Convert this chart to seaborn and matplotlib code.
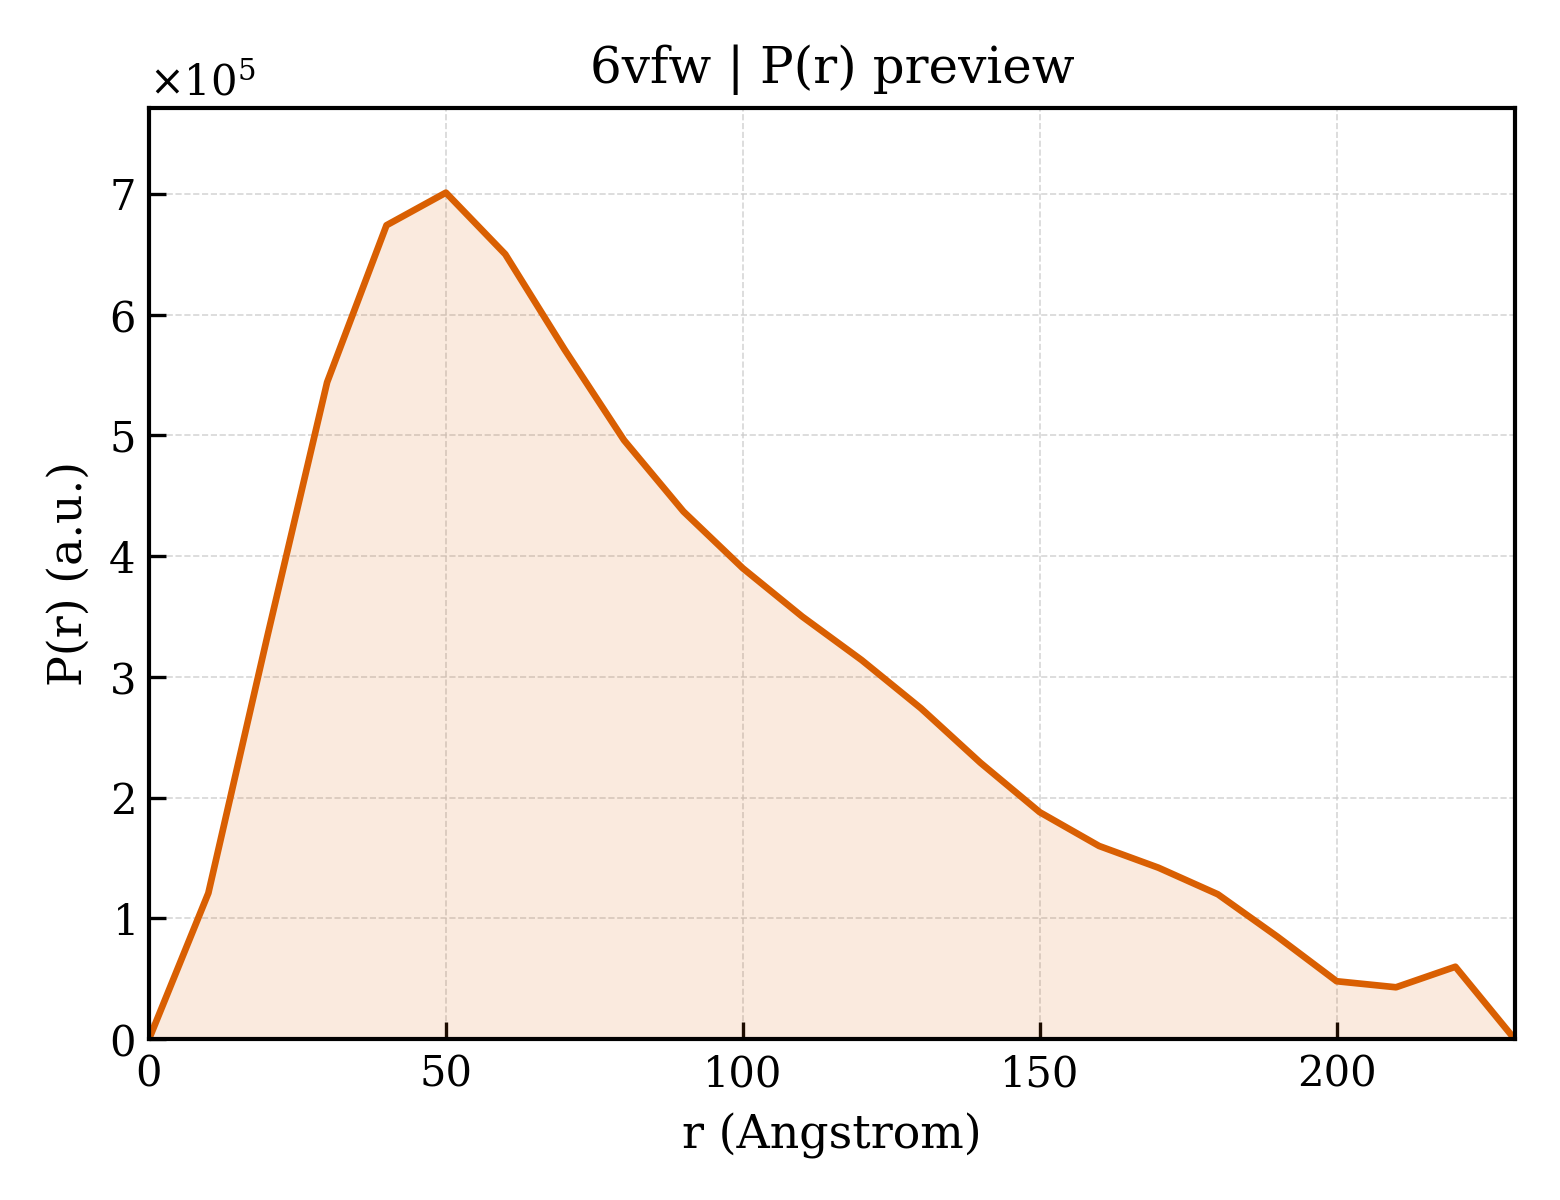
import numpy as np
import pandas as pd
import matplotlib
matplotlib.use("Agg")
import matplotlib.pyplot as plt
import seaborn as sns

# Datos (P(r) en unidades de 1e5)
r_vals = [0, 10, 20, 30, 40, 50, 60, 70, 80, 90, 100, 110, 120,
          130, 140, 150, 160, 170, 180, 190, 200, 210, 220, 230]
pr_vals = [0.0, 1.21, 3.35, 5.44, 6.74, 7.01, 6.50, 5.71, 4.96, 4.37, 3.90, 3.50, 3.14,
           2.74, 2.29, 1.88, 1.60, 1.42, 1.20, 0.85, 0.48, 0.43, 0.60, 0.0]
COLOR = "#D95F02"
TITULO = "6vfw | P(r) preview"

df = pd.DataFrame({"r": r_vals, "pr": np.array(pr_vals) * 1e5})

sns.set_theme(style="white")
plt.rcParams["font.family"] = ["DejaVu Serif"]
plt.rcParams["mathtext.fontset"] = "dejavuserif"
plt.rcParams["text.color"] = "black"
plt.rcParams["axes.labelcolor"] = "black"

fig, ax = plt.subplots(figsize=(5.2, 4), dpi=300)
fig.subplots_adjust(left=0.0955, right=0.971, top=0.91, bottom=0.134)

ax.fill_between(df["r"], df["pr"], 0, color=COLOR, alpha=0.13, linewidth=0)
sns.lineplot(data=df, x="r", y="pr", color=COLOR, linewidth=1.6, ax=ax)

ax.set_xlim(0, 230)
ax.set_ylim(0, df["pr"].max() * 1.1)
ax.set_title(TITULO, fontsize=12, color="black")
ax.set_xlabel("r (Angstrom)", fontsize=11, color="black")
ax.set_ylabel("P(r) (a.u.)", fontsize=11, color="black")

ax.ticklabel_format(axis="y", style="sci", scilimits=(0, 0), useMathText=True)
ax.yaxis.get_offset_text().set_fontsize(10)
ax.yaxis.get_offset_text().set_color("black")
ax.tick_params(direction="in", length=4, width=0.8, labelsize=10,
               left=True, bottom=True, colors="black")
ax.grid(True, linestyle="--", linewidth=0.4, color="#cccccc", alpha=0.8)
for s in ax.spines.values():
    s.set_linewidth(1.0)
    s.set_color("black")

fig.savefig("out.png", dpi=300)
plt.close(fig)
